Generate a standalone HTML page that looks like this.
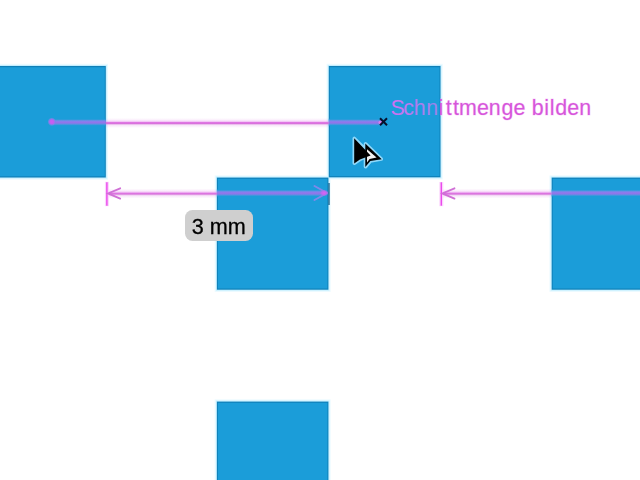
<!DOCTYPE html>
<html lang="de">
<head>
<meta charset="utf-8">
<title>Schnittmenge bilden</title>
<style>
  html, body { margin: 0; padding: 0; }
  body { width: 640px; height: 480px; overflow: hidden; background: #ffffff; position: relative;
         font-family: "Liberation Sans", sans-serif; }
  #canvas { position: absolute; left: 0; top: 0; width: 640px; height: 480px; overflow: hidden; }
  svg { position: absolute; left: 0; top: 0; }
  .measure { position: absolute; left: 184.9px; top: 210.4px; width: 67.6px; height: 31px; border-radius: 7.5px;
             background: #cfcfcf; color: #000; font-size: 21.6px; line-height: 33.4px; text-align: center; white-space: nowrap;
             -webkit-text-stroke: 0.3px #000; will-change: transform; }
</style>
</head>
<body>
<div id="canvas">
  <svg width="640" height="480" viewBox="0 0 640 480">
    <defs>
      <linearGradient id="gw" x1="0" y1="0" x2="0" y2="1">
        <stop offset="0" stop-color="#d26fd8" stop-opacity="0"/>
        <stop offset="0.2" stop-color="#e070e8" stop-opacity="0.12"/>
        <stop offset="0.3" stop-color="#e070e8" stop-opacity="0.26"/>
        <stop offset="0.39" stop-color="#e070e8" stop-opacity="0.5"/>
        <stop offset="0.44" stop-color="#dc68e0" stop-opacity="0.9"/>
        <stop offset="0.57" stop-color="#d668da" stop-opacity="0.95"/>
        <stop offset="0.63" stop-color="#d070d6" stop-opacity="0.5"/>
        <stop offset="0.73" stop-color="#d26fd8" stop-opacity="0.16"/>
        <stop offset="1" stop-color="#d26fd8" stop-opacity="0"/>
      </linearGradient>
      <linearGradient id="gb" x1="0" y1="0" x2="0" y2="1">
        <stop offset="0" stop-color="#1b9dd9"/>
        <stop offset="0.12" stop-color="#2f9adb"/>
        <stop offset="0.22" stop-color="#5f8fe5"/>
        <stop offset="0.36" stop-color="#8382ec"/>
        <stop offset="0.5" stop-color="#9673ec"/>
        <stop offset="0.64" stop-color="#877ae8"/>
        <stop offset="0.78" stop-color="#5f8ee2"/>
        <stop offset="0.9" stop-color="#2f9adb"/>
        <stop offset="1" stop-color="#1b9dd9"/>
      </linearGradient>
      <radialGradient id="tip" cx="0.5" cy="0.5" r="0.5">
        <stop offset="0" stop-color="#e060f4"/>
        <stop offset="0.5" stop-color="#c068f0" stop-opacity="0.9"/>
        <stop offset="1" stop-color="#8c75e8" stop-opacity="0"/>
      </radialGradient>
  <radialGradient id="dot" cx="0.5" cy="0.5" r="0.5">
        <stop offset="0" stop-color="#cc5cf4"/>
        <stop offset="0.45" stop-color="#c060f0"/>
        <stop offset="0.75" stop-color="#8a80ea" stop-opacity="0.7"/>
        <stop offset="1" stop-color="#5a90e4" stop-opacity="0"/>
      </radialGradient>
    </defs>

    <!-- squares: halo, dark edge, fill -->
    <g fill="#eafaff">
      <rect x="-12.2" y="63.8" width="120.2" height="115.9"/>
      <rect x="326.6" y="63.8" width="116.1" height="115.7"/>
      <rect x="214.7" y="175.4" width="115.9" height="116.5"/>
      <rect x="549.5" y="175.4" width="102.7" height="116.5"/>
      <rect x="214.7" y="399.4" width="115.9" height="102.8"/>
    </g>
    <g fill="#c4eeff">
      <rect x="-11.0" y="65.0" width="117.8" height="113.5"/>
      <rect x="327.8" y="65.0" width="113.7" height="113.3"/>
      <rect x="215.9" y="176.6" width="113.5" height="114.1"/>
      <rect x="550.7" y="176.6" width="100.3" height="114.1"/>
      <rect x="215.9" y="400.6" width="113.5" height="100.4"/>
    </g>
    <g fill="#0f80b8">
      <rect x="-10.0" y="66.0" width="115.8" height="111.5"/>
      <rect x="328.8" y="66.0" width="111.7" height="111.3"/>
      <rect x="216.9" y="177.6" width="111.5" height="112.1"/>
      <rect x="551.7" y="177.6" width="98.3" height="112.1"/>
      <rect x="216.9" y="401.6" width="111.5" height="98.4"/>
    </g>
    <g fill="#1b9dd9">
      <rect x="-9.0" y="67.2" width="113.8" height="109.1"/>
      <rect x="329.8" y="67.2" width="109.7" height="108.9"/>
      <rect x="217.9" y="178.8" width="109.5" height="109.7"/>
      <rect x="552.7" y="178.8" width="96.3" height="109.7"/>
      <rect x="217.9" y="402.8" width="109.5" height="96.0"/>
    </g>

    <!-- smart guide line -->
    <rect x="53" y="118.75" width="52.8" height="7" fill="url(#gb)"/>
    <rect x="105.8" y="118" width="223" height="10" fill="url(#gw)"/>
    <rect x="328.8" y="118.75" width="52" height="7" fill="url(#gb)"/>
    <circle cx="51.8" cy="121.8" r="4.4" fill="url(#dot)"/>

    <!-- measure arrows -->
    <rect x="108" y="188.5" width="108.9" height="10" fill="url(#gw)"/>
    <rect x="216.9" y="189.5" width="108" height="7" fill="url(#gb)"/>
    <rect x="442" y="188.5" width="109.7" height="10" fill="url(#gw)"/>
    <rect x="551.7" y="189.5" width="90" height="7" fill="url(#gb)"/>
    <g fill="none" stroke-linecap="butt">
      <line x1="106.9" y1="181.8" x2="106.9" y2="206.2" stroke="#fbd4fc" stroke-width="4"/>
      <line x1="441.3" y1="182" x2="441.3" y2="206.2" stroke="#fbd4fc" stroke-width="4"/>
      <line x1="106.9" y1="182.3" x2="106.9" y2="205.7" stroke="#ea4aec" stroke-width="1.45"/>
      <line x1="441.3" y1="182.3" x2="441.3" y2="205.7" stroke="#ea4aec" stroke-width="1.45"/>
      <g stroke="#d070d6" stroke-width="1.8" stroke-linecap="round">
        <polyline points="120.2,188.3 108,193.4 120.2,198.6"/>
        <polyline points="454.5,188.3 442.3,193.4 454.5,198.6"/>
      </g>
    </g>
    <polyline points="314.5,186 327,193 314.5,200" stroke="#7f88ea" stroke-width="2" fill="none" stroke-linecap="round"/>
    <ellipse cx="324" cy="193" rx="5" ry="3.6" fill="url(#tip)"/>
    <line x1="329" y1="183" x2="329" y2="205" stroke="#0b5d8c" stroke-width="1.3"/>

    <ellipse cx="380.6" cy="122.4" rx="2.2" ry="1.6" fill="#e27fe8" opacity="0.9"/>
    <!-- x marker -->
    <g stroke="#08102c" stroke-width="2" stroke-linecap="butt">
      <line x1="380" y1="118.3" x2="387" y2="125.3"/>
      <line x1="387" y1="118.3" x2="380" y2="125.3"/>
    </g>

    <!-- cursor -->
    <g stroke-linejoin="miter">
      <path d="M354.3 138.4 L354.3 163.2 L359.8 159.4 L365.5 157 L365.5 166.8 L370.3 161 L381.3 159.1 L365.5 143.9 L365.5 149.6 Z" fill="#8fd8fa" stroke="#8fd8fa" stroke-width="3.6" stroke-linejoin="round"/>
      <path d="M365.3 143.6 L365.3 167.1 L370.4 161.1 L381.7 159.2 Z" fill="#000"/>
      <path d="M367 149.2 L376.6 157.4 L369.6 158.9 L367 162.4 Z" fill="#f2f2f2"/>
      <path d="M354.2 138.2 L354.2 163.4 L359.9 159.4 L370.6 155.5 Z" fill="#000"/>
    </g>
    <!-- tooltip text -->
    <linearGradient id="tf" gradientUnits="userSpaceOnUse" x1="392" y1="0" x2="592" y2="0">
      <stop offset="0" stop-color="#d070f2"/>
      <stop offset="0.096" stop-color="#b87af0"/>
      <stop offset="0.2405" stop-color="#9484ea"/>
      <stop offset="0.2405" stop-color="#d656da"/>
      <stop offset="1" stop-color="#d656da"/>
    </linearGradient>
    <linearGradient id="ts" gradientUnits="userSpaceOnUse" x1="392" y1="0" x2="592" y2="0">
      <stop offset="0" stop-color="#f3a8f6" stop-opacity="0"/>
      <stop offset="0.2405" stop-color="#f3a8f6" stop-opacity="0"/>
      <stop offset="0.2405" stop-color="#f3a8f6" stop-opacity="0.45"/>
      <stop offset="1" stop-color="#f3a8f6" stop-opacity="0.45"/>
    </linearGradient>
    <text font-family="'Liberation Sans', sans-serif" font-size="21.4" x="390.57 403.20 413.82 426.17 438.56 445.71 453.11 458.88 476.96 488.85 501.44 513.58 525.26 531.70 544.34 549.63 555.13 567.26 579.15" y="114.75" fill="url(#tf)" stroke="url(#ts)" stroke-width="1" paint-order="stroke">Schnittmenge bilden</text>
  </svg>

  <div class="measure">3 mm</div>
</div>
</body>
</html>
